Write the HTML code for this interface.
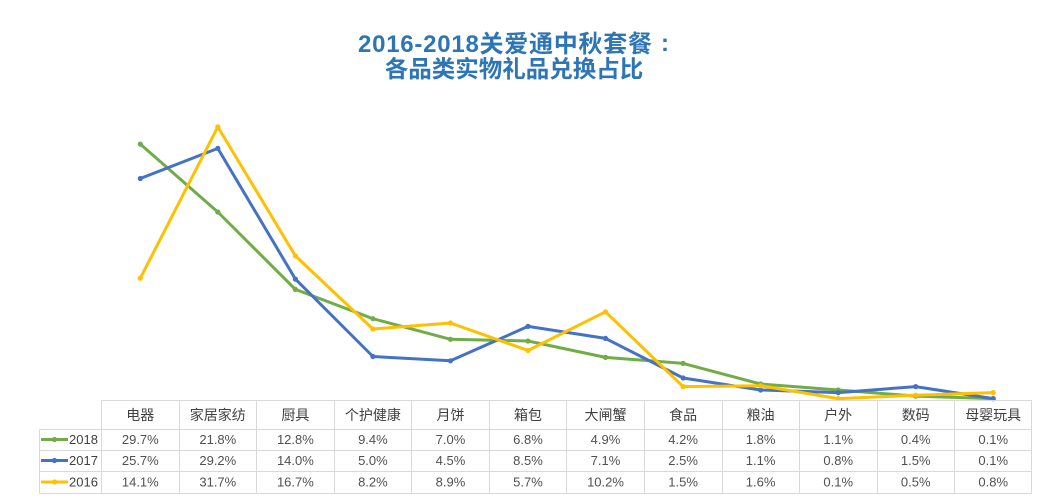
<!DOCTYPE html>
<html>
<head>
<meta charset="utf-8">
<style>
  html,body{margin:0;padding:0;background:#fff;}
  body{width:1045px;height:501px;overflow:hidden;}
  svg{display:block;}
  .t{font-family:"Liberation Sans","Noto Sans CJK SC",sans-serif;}
</style>
</head>
<body>
<svg width="1045" height="501" viewBox="0 0 1045 501" xmlns="http://www.w3.org/2000/svg">
  <rect width="1045" height="501" fill="#fff"/>
  <!-- Title -->
  <text class="t" x="358" y="52" font-size="24" font-weight="bold" fill="#2e75b6" textLength="294" lengthAdjust="spacing">2016-2018关爱通中秋套餐</text>
  <text class="t" x="665" y="51" text-anchor="middle" font-size="24" font-weight="bold" fill="#2e75b6">:</text>
  <text class="t" x="514" y="77" text-anchor="middle" font-size="23.5" font-weight="bold" fill="#2e75b6">各品类实物礼品兑换占比</text>

  <!-- Series -->
  <g fill="none" stroke-width="3" stroke-linejoin="round" stroke-linecap="round">
    <polyline stroke="#70ad47" points="140.3,144.1 217.8,212.0 295.4,289.4 372.9,318.7 450.5,339.3 528.0,341.0 605.5,357.4 683.1,363.4 760.6,384.0 838.2,390.0 915.7,396.1 993.2,398.6"/>
    <polyline stroke="#4472c4" points="140.3,178.5 217.8,148.4 295.4,279.1 372.9,356.5 450.5,360.8 528.0,326.4 605.5,338.4 683.1,378.0 760.6,390.0 838.2,392.6 915.7,386.6 993.2,398.6"/>
    <polyline stroke="#ffc000" points="140.3,278.2 217.8,126.9 295.4,255.9 372.9,329.0 450.5,323.0 528.0,350.5 605.5,311.8 683.1,386.6 760.6,385.7 838.2,398.6 915.7,395.2 993.2,392.6"/>
  </g>
  <g fill="#70ad47">
    <circle cx="140.3" cy="144.1" r="2.6"/><circle cx="217.8" cy="212.0" r="2.6"/><circle cx="295.4" cy="289.4" r="2.6"/><circle cx="372.9" cy="318.7" r="2.6"/><circle cx="450.5" cy="339.3" r="2.6"/><circle cx="528.0" cy="341.0" r="2.6"/><circle cx="605.5" cy="357.4" r="2.6"/><circle cx="683.1" cy="363.4" r="2.6"/><circle cx="760.6" cy="384.0" r="2.6"/><circle cx="838.2" cy="390.0" r="2.6"/><circle cx="915.7" cy="396.1" r="2.6"/><circle cx="993.2" cy="398.6" r="2.6"/>
  </g>
  <g fill="#4472c4">
    <circle cx="140.3" cy="178.5" r="2.6"/><circle cx="217.8" cy="148.4" r="2.6"/><circle cx="295.4" cy="279.1" r="2.6"/><circle cx="372.9" cy="356.5" r="2.6"/><circle cx="450.5" cy="360.8" r="2.6"/><circle cx="528.0" cy="326.4" r="2.6"/><circle cx="605.5" cy="338.4" r="2.6"/><circle cx="683.1" cy="378.0" r="2.6"/><circle cx="760.6" cy="390.0" r="2.6"/><circle cx="838.2" cy="392.6" r="2.6"/><circle cx="915.7" cy="386.6" r="2.6"/><circle cx="993.2" cy="398.6" r="2.6"/>
  </g>
  <g fill="#ffc000">
    <circle cx="140.3" cy="278.2" r="2.6"/><circle cx="217.8" cy="126.9" r="2.6"/><circle cx="295.4" cy="255.9" r="2.6"/><circle cx="372.9" cy="329.0" r="2.6"/><circle cx="450.5" cy="323.0" r="2.6"/><circle cx="528.0" cy="350.5" r="2.6"/><circle cx="605.5" cy="311.8" r="2.6"/><circle cx="683.1" cy="386.6" r="2.6"/><circle cx="760.6" cy="385.7" r="2.6"/><circle cx="838.2" cy="398.6" r="2.6"/><circle cx="915.7" cy="395.2" r="2.6"/><circle cx="993.2" cy="392.6" r="2.6"/>
  </g>

  <!-- Table grid -->
  <g stroke="#d9d9d9" stroke-width="1" shape-rendering="crispEdges">
    <line x1="101.5" y1="400.5" x2="1032" y2="400.5"/>
    <line x1="39.5" y1="429.5" x2="1032" y2="429.5"/>
    <line x1="39.5" y1="450.5" x2="1032" y2="450.5"/>
    <line x1="39.5" y1="471.5" x2="1032" y2="471.5"/>
    <line x1="39.5" y1="493.5" x2="1032" y2="493.5"/>
    <line x1="39.5" y1="429.5" x2="39.5" y2="493.5"/>
    <line x1="101.5" y1="400.5" x2="101.5" y2="493.5"/>
    <line x1="179.5" y1="400.5" x2="179.5" y2="493.5"/>
    <line x1="256.5" y1="400.5" x2="256.5" y2="493.5"/>
    <line x1="334.5" y1="400.5" x2="334.5" y2="493.5"/>
    <line x1="411.5" y1="400.5" x2="411.5" y2="493.5"/>
    <line x1="489.5" y1="400.5" x2="489.5" y2="493.5"/>
    <line x1="566.5" y1="400.5" x2="566.5" y2="493.5"/>
    <line x1="644.5" y1="400.5" x2="644.5" y2="493.5"/>
    <line x1="722.5" y1="400.5" x2="722.5" y2="493.5"/>
    <line x1="799.5" y1="400.5" x2="799.5" y2="493.5"/>
    <line x1="877.5" y1="400.5" x2="877.5" y2="493.5"/>
    <line x1="954.5" y1="400.5" x2="954.5" y2="493.5"/>
    <line x1="1031.5" y1="400.5" x2="1031.5" y2="493.5"/>
  </g>

  <!-- Header -->
  <g class="t" font-size="14" fill="#404040" text-anchor="middle">
    <text x="140.3" y="420">电器</text>
    <text x="217.8" y="420">家居家纺</text>
    <text x="295.4" y="420">厨具</text>
    <text x="372.9" y="420">个护健康</text>
    <text x="450.5" y="420">月饼</text>
    <text x="528.0" y="420">箱包</text>
    <text x="605.5" y="420">大闸蟹</text>
    <text x="683.1" y="420">食品</text>
    <text x="760.6" y="420">粮油</text>
    <text x="838.2" y="420">户外</text>
    <text x="915.7" y="420">数码</text>
    <text x="993.2" y="420">母婴玩具</text>
  </g>

  <!-- Legend keys -->
  <g stroke-width="3">
    <line x1="41" y1="439.5" x2="68" y2="439.5" stroke="#70ad47"/>
    <line x1="41" y1="460.5" x2="68" y2="460.5" stroke="#4472c4"/>
    <line x1="41" y1="482" x2="68" y2="482" stroke="#ffc000"/>
  </g>
  <circle cx="54.5" cy="439.5" r="2.6" fill="#70ad47"/>
  <circle cx="54.5" cy="460.5" r="2.6" fill="#4472c4"/>
  <circle cx="54.5" cy="482" r="2.6" fill="#ffc000"/>
  <g class="t" font-size="13" fill="#404040">
    <text x="69" y="444">2018</text>
    <text x="69" y="465">2017</text>
    <text x="69" y="486.5">2016</text>
  </g>

  <!-- Values -->
  <g class="t" font-size="13" fill="#505050" text-anchor="middle">
    <text x="140.3" y="444">29.7%</text><text x="217.8" y="444">21.8%</text><text x="295.4" y="444">12.8%</text><text x="372.9" y="444">9.4%</text><text x="450.5" y="444">7.0%</text><text x="528.0" y="444">6.8%</text><text x="605.5" y="444">4.9%</text><text x="683.1" y="444">4.2%</text><text x="760.6" y="444">1.8%</text><text x="838.2" y="444">1.1%</text><text x="915.7" y="444">0.4%</text><text x="993.2" y="444">0.1%</text>
    <text x="140.3" y="465">25.7%</text><text x="217.8" y="465">29.2%</text><text x="295.4" y="465">14.0%</text><text x="372.9" y="465">5.0%</text><text x="450.5" y="465">4.5%</text><text x="528.0" y="465">8.5%</text><text x="605.5" y="465">7.1%</text><text x="683.1" y="465">2.5%</text><text x="760.6" y="465">1.1%</text><text x="838.2" y="465">0.8%</text><text x="915.7" y="465">1.5%</text><text x="993.2" y="465">0.1%</text>
    <text x="140.3" y="486.5">14.1%</text><text x="217.8" y="486.5">31.7%</text><text x="295.4" y="486.5">16.7%</text><text x="372.9" y="486.5">8.2%</text><text x="450.5" y="486.5">8.9%</text><text x="528.0" y="486.5">5.7%</text><text x="605.5" y="486.5">10.2%</text><text x="683.1" y="486.5">1.5%</text><text x="760.6" y="486.5">1.6%</text><text x="838.2" y="486.5">0.1%</text><text x="915.7" y="486.5">0.5%</text><text x="993.2" y="486.5">0.8%</text>
  </g>
</svg>
</body>
</html>
